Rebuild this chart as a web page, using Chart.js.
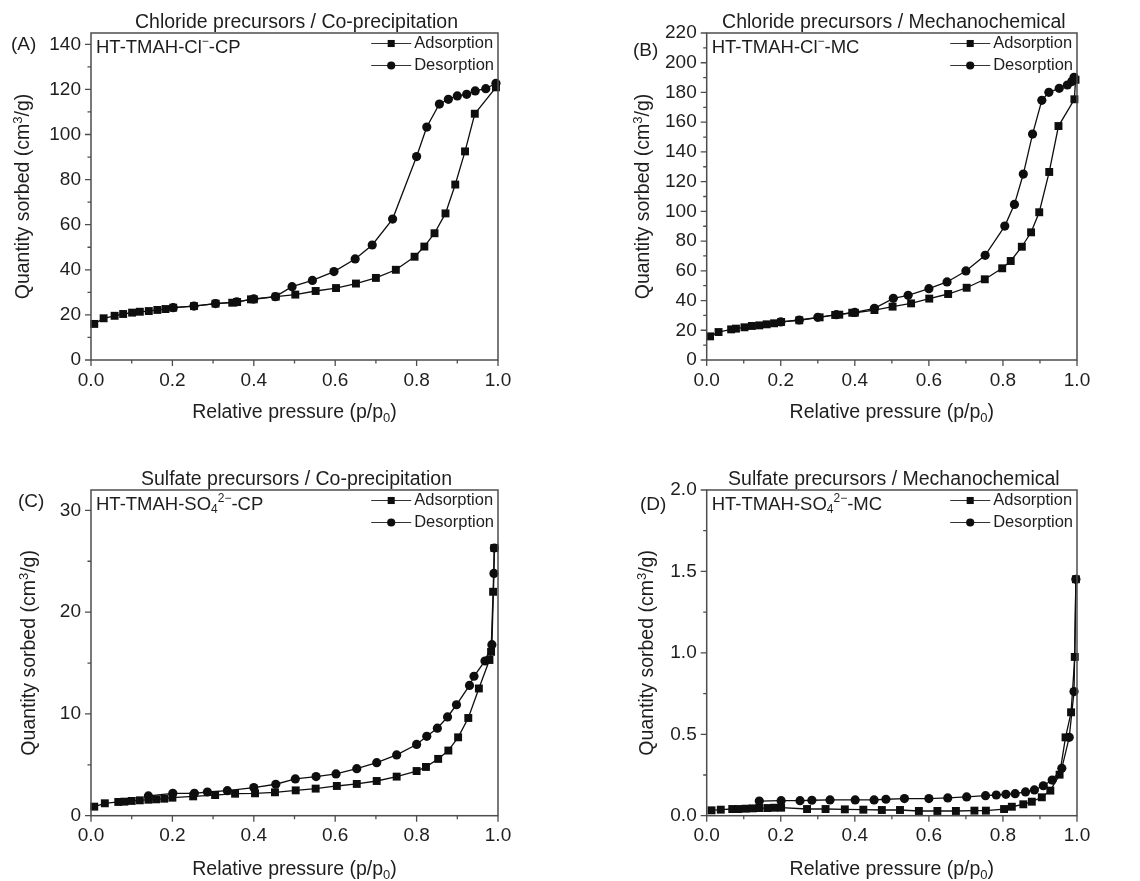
<!DOCTYPE html>
<html>
<head>
<meta charset="utf-8">
<script src="https://cdn.jsdelivr.net/npm/chart.js@4.4.1/dist/chart.umd.min.js"></script>
<style>
  html, body { margin: 0; padding: 0; background: #fff; }
  body { width: 1140px; height: 881px; position: relative; overflow: hidden; }
  canvas { position: absolute; }
</style>
</head>
<body>
<canvas id="cA" width="570" height="440" style="left:0;top:0"></canvas>
<canvas id="cB" width="570" height="440" style="left:570px;top:0"></canvas>
<canvas id="cC" width="570" height="441" style="left:0;top:440px"></canvas>
<canvas id="cD" width="570" height="441" style="left:570px;top:440px"></canvas>
<script>
// ---- N2 isotherm data: relative pressure p/p0 and quantity sorbed (cm3/g) ----

// (A) HT-TMAH-Cl- co-precipitation
const A_ads_p = [0.008,0.031,0.058,0.079,0.101,0.120,0.142,0.163,0.183,0.202,0.253,0.306,0.347,0.359,0.393,0.400,0.454,0.502,0.552,0.602,0.651,0.700,0.749,0.795,0.819,0.844,0.871,0.895,0.919,0.943,0.995];
const A_ads_v = [16.0,18.5,19.6,20.4,21.0,21.4,21.7,22.2,22.6,23.2,23.9,25.0,25.4,25.7,26.9,26.9,28.1,29.0,30.6,31.9,33.9,36.4,40.0,45.8,50.3,56.2,65.0,77.8,92.5,109.2,120.9];
const A_des_p = [0.995,0.970,0.944,0.923,0.900,0.878,0.856,0.825,0.800,0.741,0.691,0.649,0.597,0.544,0.494,0.453,0.400,0.358,0.306,0.253,0.202];
const A_des_v = [122.7,120.3,119.3,117.8,117.1,115.6,113.5,103.3,90.2,62.5,51.0,44.8,39.2,35.3,32.5,28.1,27.1,25.8,25.0,23.9,23.2];

// (B) HT-TMAH-Cl- mechanochemical
const B_ads_p = [0.009,0.032,0.066,0.079,0.102,0.122,0.142,0.162,0.182,0.201,0.250,0.305,0.347,0.358,0.393,0.400,0.453,0.502,0.552,0.601,0.652,0.702,0.751,0.798,0.821,0.851,0.876,0.898,0.925,0.950,0.993,0.996];
const B_ads_v = [15.9,18.8,20.6,21.1,22.0,22.9,23.3,24.0,24.7,25.6,26.7,28.7,30.3,30.5,31.8,31.8,33.6,35.9,38.1,41.3,44.4,48.6,54.3,61.7,66.6,76.2,85.9,99.4,126.5,157.4,175.4,188.5];
const B_des_p = [0.992,0.986,0.974,0.952,0.924,0.905,0.880,0.855,0.831,0.805,0.752,0.700,0.649,0.600,0.544,0.504,0.453,0.400,0.350,0.300,0.250,0.200];
const B_des_v = [190.2,187.3,185.0,182.8,180.1,174.7,152.0,125.1,104.7,90.1,70.4,59.9,52.5,48.0,43.5,41.5,34.8,32.0,30.5,28.7,26.9,25.6];

// (C) HT-TMAH-SO4 2- co-precipitation
const C_ads_p = [0.008,0.034,0.067,0.082,0.100,0.120,0.141,0.160,0.180,0.200,0.251,0.305,0.354,0.403,0.452,0.503,0.552,0.604,0.653,0.702,0.751,0.800,0.823,0.853,0.878,0.902,0.927,0.953,0.979,0.983,0.988,0.991];
const C_ads_v = [0.89,1.22,1.35,1.38,1.45,1.51,1.57,1.61,1.67,1.77,1.90,2.03,2.16,2.20,2.30,2.49,2.66,2.92,3.12,3.41,3.84,4.39,4.79,5.58,6.40,7.70,9.60,12.5,15.3,16.1,22.0,26.3];
const C_des_p = [0.991,0.990,0.985,0.968,0.941,0.930,0.898,0.876,0.851,0.825,0.800,0.751,0.702,0.653,0.602,0.553,0.502,0.454,0.400,0.335,0.286,0.254,0.201,0.141];
const C_des_v = [26.3,23.8,16.8,15.2,13.7,12.8,10.9,9.7,8.6,7.8,7.0,5.97,5.21,4.62,4.10,3.84,3.61,3.09,2.76,2.46,2.33,2.20,2.20,1.94];

// (D) HT-TMAH-SO4 2- mechanochemical
const D_ads_p = [0.013,0.038,0.069,0.085,0.105,0.124,0.142,0.164,0.182,0.201,0.271,0.321,0.373,0.423,0.473,0.522,0.573,0.623,0.673,0.723,0.754,0.803,0.824,0.855,0.878,0.905,0.928,0.953,0.969,0.984,0.994,0.997];
const D_ads_v = [0.033,0.037,0.041,0.041,0.043,0.045,0.047,0.047,0.049,0.049,0.041,0.041,0.039,0.037,0.035,0.035,0.029,0.029,0.029,0.031,0.031,0.041,0.055,0.070,0.086,0.113,0.154,0.252,0.481,0.635,0.975,1.452];
const D_des_p = [0.997,0.992,0.979,0.959,0.933,0.909,0.885,0.861,0.833,0.808,0.782,0.753,0.702,0.651,0.600,0.534,0.484,0.452,0.401,0.333,0.284,0.252,0.201,0.142];
const D_des_v = [1.452,0.762,0.481,0.291,0.219,0.184,0.158,0.146,0.135,0.131,0.127,0.123,0.115,0.109,0.105,0.105,0.101,0.097,0.097,0.097,0.095,0.092,0.092,0.090];

// Panel texts
const panelTags = ['(A)', '(B)', '(C)', '(D)'];
const panelTitles = [
  'Chloride precursors / Co-precipitation',
  'Chloride precursors / Mechanochemical',
  'Sulfate precursors / Co-precipitation',
  'Sulfate precursors / Mechanochemical'
];
const seriesNames = ['Adsorption', 'Desorption'];
const xTicks = [0, 0.2, 0.4, 0.6, 0.8, 1.0];

// ---- styling ----
const FONT = '"Liberation Sans", Arial, Helvetica, sans-serif';
const INK = '#1e1e1e';
const AXIS = '#4d4d4d';
const MARK = '#0e0e0e';

function pts(xs, ys) { return xs.map((x, i) => ({ x: x, y: ys[i] })); }

// rich text: array of [text, size, dy]
function drawRich(ctx, parts, x, y, align) {
  let w = 0;
  const ws = parts.map(p => { ctx.font = p[1] + 'px ' + FONT; const m = ctx.measureText(p[0]).width; w += m; return m; });
  let cx = align === 'center' ? x - w / 2 : (align === 'right' ? x - w : x);
  ctx.textAlign = 'left';
  ctx.textBaseline = 'middle';
  parts.forEach((p, i) => { ctx.font = p[1] + 'px ' + FONT; ctx.fillText(p[0], cx, y + (p[2] || 0)); cx += ws[i]; });
  return w;
}

function sampleLabel(anion, route) {
  if (anion === 'Cl') {
    return [['HT-TMAH-Cl', 18.5], ['\u2212', 12, -6], ['-' + route, 18.5]];
  }
  return [['HT-TMAH-SO', 18.5], ['4', 12, 5], ['2\u2212', 12, -6], ['-' + route, 18.5]];
}

const panels = [
  { id: 'cA', ads: pts(A_ads_p, A_ads_v), des: pts(A_des_p, A_des_v), yMax: 145, yMajor: 20, yMinor: 10, yDec: 0,
    area: { l: 91, t: 33, r: 498, b: 360 }, tag: [11, 45], sample: sampleLabel('Cl', 'CP'),
    xTitleY: 413, yTitleX: 24 },
  { id: 'cB', ads: pts(B_ads_p, B_ads_v), des: pts(B_des_p, B_des_v), yMax: 220, yMajor: 20, yMinor: 10, yDec: 0,
    area: { l: 136.7, t: 33, r: 507, b: 360 }, tag: [63, 51], sample: sampleLabel('Cl', 'MC'),
    xTitleY: 413, yTitleX: 74 },
  { id: 'cC', ads: pts(C_ads_p, C_ads_v), des: pts(C_des_p, C_des_v), yMax: 32, yMajor: 10, yMinor: 5, yDec: 0,
    area: { l: 91, t: 50, r: 498, b: 375.7 }, tag: [18, 62], sample: sampleLabel('SO4', 'CP'),
    xTitleY: 430, yTitleX: 30 },
  { id: 'cD', ads: pts(D_ads_p, D_ads_v), des: pts(D_des_p, D_des_v), yMax: 2.0, yMajor: 0.5, yMinor: 0.25, yDec: 1,
    area: { l: 136.7, t: 50, r: 507, b: 375.7 }, tag: [70, 65], sample: sampleLabel('SO4', 'MC'),
    xTitleY: 430, yTitleX: 78 }
];

function drawMarker(ctx, style, x, y, r) {
  ctx.beginPath();
  if (style === 'rect') {
    const s = r * Math.SQRT1_2;
    ctx.rect(x - s, y - s, 2 * s, 2 * s);
  } else {
    ctx.arc(x, y, r, 0, Math.PI * 2);
  }
  ctx.fill();
}

const decorPlugin = {
  id: 'decor',
  afterDraw(chart, args, opts) {
    const p = opts.panel;
    const idx = opts.index;
    const ctx = chart.ctx;
    const a = chart.chartArea;
    const xs = chart.scales.x, ys = chart.scales.y;
    ctx.save();

    // frame
    ctx.strokeStyle = AXIS;
    ctx.lineWidth = 1.5;
    ctx.strokeRect(a.left, a.top, a.right - a.left, a.bottom - a.top);

    // tick marks (major + minor) on bottom and left
    ctx.lineWidth = 1.3;
    ctx.beginPath();
    for (let k = 0; k <= 10; k++) {
      const x = xs.getPixelForValue(k * 0.1);
      const len = k % 2 === 0 ? 6 : 3.5;
      ctx.moveTo(x, a.bottom); ctx.lineTo(x, a.bottom + len);
    }
    const nMinor = Math.floor(p.yMax / p.yMinor + 1e-9);
    const ratio = Math.round(p.yMajor / p.yMinor);
    for (let k = 0; k <= nMinor; k++) {
      const y = ys.getPixelForValue(k * p.yMinor);
      const len = k % ratio === 0 ? 6 : 3.5;
      ctx.moveTo(a.left, y); ctx.lineTo(a.left - len, y);
    }
    ctx.stroke();

    ctx.fillStyle = INK;
    // panel title
    drawRich(ctx, [[panelTitles[idx], 19.5]], (a.left + a.right) / 2 + 2, a.top - 10, 'center');
    // panel tag
    drawRich(ctx, [[panelTags[idx], 19]], p.tag[0], p.tag[1], 'left');
    // sample name
    drawRich(ctx, p.sample, a.left + 5, a.top + 15, 'left');

    // legend
    ctx.font = '16.5px ' + FONT;
    const tw = Math.max(...seriesNames.map(s => ctx.measureText(s).width));
    const tx = a.right - 4 - tw;
    const styles = ['rect', 'circle'];
    const radii = [5, 4.1];
    seriesNames.forEach((name, i) => {
      const y = a.top + 10.5 + i * 22;
      ctx.strokeStyle = '#333';
      ctx.lineWidth = 1.2;
      ctx.beginPath(); ctx.moveTo(tx - 43, y); ctx.lineTo(tx - 3, y); ctx.stroke();
      ctx.fillStyle = MARK;
      drawMarker(ctx, styles[i], tx - 23, y, radii[i]);
      ctx.fillStyle = INK;
      drawRich(ctx, [[name, 16.5]], tx, y, 'left');
    });

    // axis titles
    drawRich(ctx, [['Relative pressure (p/p', 19.5], ['0', 13, 5], [')', 19.5]], (a.left + a.right) / 2, p.xTitleY, 'center');
    ctx.save();
    ctx.translate(p.yTitleX, (a.top + a.bottom) / 2);
    ctx.rotate(-Math.PI / 2);
    drawRich(ctx, [['Quantity sorbed (cm', 19.5], ['3', 13, -6], ['/g)', 19.5]], 0, 0, 'center');
    ctx.restore();

    ctx.restore();
  }
};

panels.forEach((p, idx) => {
  const canvas = document.getElementById(p.id);
  const W = canvas.width, H = canvas.height;
  new Chart(canvas, {
    type: 'scatter',
    data: {
      datasets: [
        { label: seriesNames[0], data: p.ads, showLine: true, borderColor: MARK, borderWidth: 1.3,
          pointStyle: 'rect', pointRadius: 5.6, pointBackgroundColor: MARK, pointBorderWidth: 0, clip: false },
        { label: seriesNames[1], data: p.des, showLine: true, borderColor: MARK, borderWidth: 1.3,
          pointStyle: 'circle', pointRadius: 4.6, pointBackgroundColor: MARK, pointBorderWidth: 0, clip: false }
      ]
    },
    options: {
      responsive: false,
      animation: false,
      devicePixelRatio: 1,
      layout: { padding: { left: 0, top: p.area.t, right: W - p.area.r, bottom: 0 } },
      plugins: {
        legend: { display: false },
        title: { display: false },
        tooltip: { enabled: false },
        decor: { panel: p, index: idx }
      },
      scales: {
        x: {
          type: 'linear', min: 0, max: 1,
          grid: { display: false, drawTicks: false },
          border: { display: false },
          ticks: { stepSize: 0.2, padding: 9, color: INK, font: { family: FONT, size: 19 },
                   callback: v => xTicks.some(t => Math.abs(t - v) < 1e-6) ? v.toFixed(1) : '' },
          afterFit: s => { s.height = H - p.area.b; }
        },
        y: {
          type: 'linear', min: 0, max: p.yMax,
          grid: { display: false, drawTicks: false },
          border: { display: false },
          ticks: { stepSize: p.yMajor, includeBounds: false, padding: 10, color: INK, font: { family: FONT, size: 19 },
                   callback: v => v.toFixed(p.yDec) },
          afterFit: s => { s.width = p.area.l; }
        }
      }
    },
    plugins: [decorPlugin]
  });
});
</script>
</body>
</html>
